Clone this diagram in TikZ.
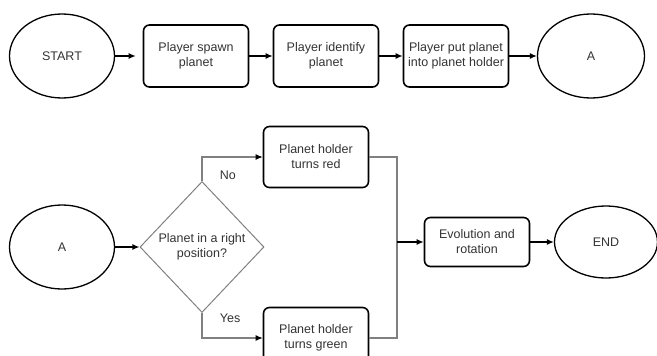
\documentclass[tikz,border=0pt]{standalone}
\usepackage{fontspec}
\setmainfont{Liberation Sans}
\usepackage{tikz}
\usetikzlibrary{positioning}
\usetikzlibrary{shapes,arrows,calc,arrows.meta}

\begin{document}
\begin{tikzpicture}[node distance=130pt, auto,
    font=\fontsize{12.5}{15}\selectfont, text=black!80,
    term/.style={draw, ellipse, line width=1.3pt, minimum width=105pt, minimum height=84pt, inner sep=0pt},
    stepbox/.style={draw, rectangle, rounded corners=6pt, line width=1.6pt, minimum width=105pt, minimum height=62pt, align=center, inner sep=2pt},
    decision/.style={draw=gray, diamond, line width=1pt, minimum width=124pt, minimum height=131pt, inner sep=0pt, align=center},
    flow/.style={-{Latex[length=7pt,width=6pt]}, line width=1.3pt},
    branch/.style={draw=gray, line width=1.1pt}]
    \clip (0,0) rectangle (657pt,-356pt);
    % Nodes
    \node [term] (start) at (62pt,-56pt) {START};
    \node [stepbox, right of=start, node distance=134pt] (spawn) {Player spawn\\planet};
    \node [stepbox, right of=spawn] (identify) {Player identify\\planet};
    \node [stepbox, right of=identify] (put) {Player put planet\\into planet holder};
    \node [term, right of=put, node distance=135pt, minimum width=107pt] (a1) {A};

    \node [term, below of=start, node distance=191pt] (a2) {A};
    \node [decision, right of=a2, node distance=140pt] (check) {Planet in a right\\position?};
    \node [stepbox, right of=check, node distance=114pt, yshift=90pt, minimum height=61pt] (red) {Planet holder\\turns red};
    \node [stepbox, right of=check, node distance=114pt, yshift=-91pt, minimum height=61pt] (green) {Planet holder\\turns green};
    \node [stepbox, right of=check, node distance=275pt, yshift=5pt, minimum height=49pt] (evo) {Evolution and\\rotation};
    \node [term, right of=evo, node distance=129pt, minimum width=103pt, minimum height=72pt] (finish) {END};
    \coordinate [left of=evo, node distance=80pt] (join);

    % Arrows
    \draw [flow, shorten >=7pt] (start) -- (spawn);
    \draw [flow] (spawn) -- (identify);
    \draw [flow] (identify) -- (put);
    \draw [flow] (put) -- (a1);
    \draw [flow] (a2) -- (check);
    \draw [branch, -{Latex[length=7pt,width=6pt,color=black]}] (check.north) |- node[pos=0.12, right=14pt] {No} (red.west);
    \draw [branch, -{Latex[length=7pt,width=6pt,color=black]}] (check.south) |- node[pos=0.1, right=14pt] {Yes} (green.west);
    \draw [branch] (red.east) -| (join);
    \draw [branch] (green.east) -| (join);
    \draw [flow] (join) -- (evo);
    \draw [flow] (evo) -- (finish);
  \end{tikzpicture}
\end{document}
